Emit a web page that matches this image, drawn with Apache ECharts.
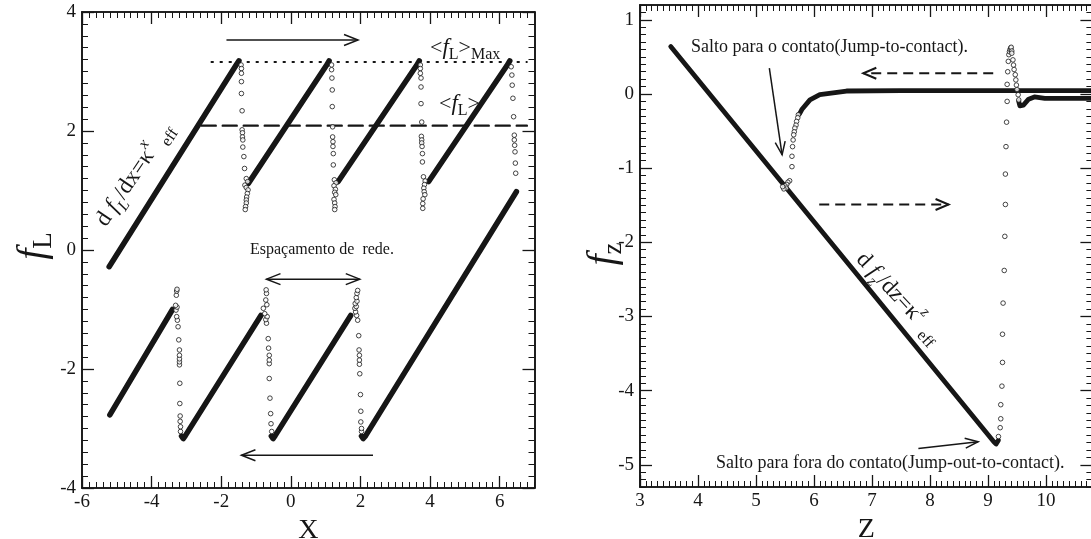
<!DOCTYPE html>
<html>
<head>
<meta charset="utf-8">
<script src="https://cdn.jsdelivr.net/npm/echarts@6/dist/echarts.min.js"></script>
<style>
  html, body { margin: 0; padding: 0; background: #fff; }
  #chart { width: 1091px; height: 539px; }
</style>
</head>
<body>
<div id="chart"></div>
<script>
// ---------- Lateral force f_L versus X ----------
// forward sweep (left to right): sticking branches
const fwdBranch1 = [[-5.22, -0.28], [-1.58, 3.10], [-1.49, 3.18]];
const fwdBranch2 = [[-1.22, 1.12], [1.02, 3.10], [1.10, 3.18]];
const fwdBranch3 = [[1.36, 1.15], [3.61, 3.10], [3.69, 3.18]];
const fwdBranch4 = [[3.96, 1.15], [6.21, 3.10], [6.29, 3.18]];
// backward sweep (right to left): sticking branches
const bwdBranch1 = [[6.48, 0.98], [2.15, -3.12], [2.08, -3.17], [2.03, -3.13]];
const bwdBranch2 = [[1.72, -1.10], [-0.45, -3.12], [-0.51, -3.17], [-0.56, -3.13]];
const bwdBranch3 = [[-0.86, -1.10], [-3.03, -3.12], [-3.09, -3.17], [-3.14, -3.13]];
const bwdBranch4 = [[-3.40, -1.00], [-5.20, -2.77]];

// slip events (sampled points during each jump)
const fwdSlip1 = [[-1.43, 3.11], [-1.42, 3.05], [-1.42, 2.97], [-1.42, 2.83], [-1.42, 2.63], [-1.40, 2.34], [-1.40, 2.02], [-1.39, 1.97], [-1.39, 1.90], [-1.38, 1.85], [-1.38, 1.73], [-1.35, 1.57], [-1.33, 1.37], [-1.28, 1.20], [-1.24, 1.15], [-1.32, 1.09], [-1.28, 1.05], [-1.23, 1.01], [-1.25, 0.95], [-1.27, 0.89], [-1.28, 0.84], [-1.28, 0.79], [-1.30, 0.73], [-1.31, 0.68]];
const fwdSlip2 = [[1.17, 3.11], [1.17, 3.03], [1.18, 2.89], [1.19, 2.69], [1.19, 2.41], [1.20, 2.07], [1.20, 1.90], [1.21, 1.82], [1.21, 1.74], [1.22, 1.62], [1.22, 1.43], [1.25, 1.18], [1.30, 1.13], [1.24, 1.08], [1.28, 1.02], [1.26, 0.97], [1.29, 0.93], [1.24, 0.85], [1.26, 0.79], [1.27, 0.73], [1.26, 0.68]];
const fwdSlip3 = [[3.72, 3.11], [3.72, 3.05], [3.72, 2.97], [3.74, 2.89], [3.74, 2.74], [3.74, 2.46], [3.76, 2.15], [3.75, 1.91], [3.76, 1.85], [3.76, 1.80], [3.77, 1.74], [3.78, 1.62], [3.78, 1.48], [3.81, 1.23], [3.86, 1.16], [3.84, 1.10], [3.82, 1.04], [3.83, 0.98], [3.85, 0.93], [3.80, 0.86], [3.79, 0.78], [3.79, 0.70]];
const fwdSlip4 = [[6.33, 3.08], [6.35, 2.94], [6.36, 2.77], [6.38, 2.55], [6.40, 2.24], [6.42, 1.93], [6.42, 1.85], [6.43, 1.76], [6.44, 1.65], [6.45, 1.46], [6.46, 1.29]];
const bwdSlip1 = [[2.03, -3.05], [2.03, -3.00], [2.01, -2.89], [2.01, -2.71], [2.00, -2.43], [1.98, -2.08], [1.97, -1.92], [1.97, -1.85], [1.97, -1.77], [1.96, -1.68], [1.95, -1.44], [1.92, -1.18], [1.89, -1.10], [1.86, -1.04], [1.84, -0.98], [1.88, -0.95], [1.85, -0.90], [1.90, -0.86], [1.88, -0.80], [1.90, -0.73], [1.92, -0.68]];
const bwdSlip2 = [[-0.55, -3.05], [-0.57, -2.92], [-0.58, -2.75], [-0.60, -2.49], [-0.62, -2.16], [-0.62, -1.91], [-0.62, -1.85], [-0.62, -1.77], [-0.64, -1.65], [-0.65, -1.49], [-0.70, -1.23], [-0.72, -1.17], [-0.68, -1.12], [-0.75, -1.07], [-0.79, -0.98], [-0.69, -0.92], [-0.72, -0.84], [-0.70, -0.73], [-0.71, -0.67]];
const bwdSlip3 = [[-3.17, -3.05], [-3.17, -2.97], [-3.18, -2.88], [-3.18, -2.79], [-3.19, -2.58], [-3.19, -2.24], [-3.20, -1.93], [-3.20, -1.88], [-3.20, -1.83], [-3.20, -1.77], [-3.20, -1.68], [-3.22, -1.51], [-3.24, -1.29], [-3.26, -1.18], [-3.28, -1.12], [-3.30, -1.01], [-3.27, -0.96], [-3.31, -0.93], [-3.29, -0.76], [-3.28, -0.69], [-3.27, -0.66]];

// mean and maximum lateral force levels
const fLMaxLevel = 3.16;
const fLMaxSpan = [-2.28, 6.78];
const fLMeanLevel = 2.09;
const fLMeanSpan = [-2.56, 6.78];

// annotation arrows [x1, y1, x2, y2] (arrowhead at x2, y2)
const scanArrows = [[-1.85, 3.53, 1.93, 3.53], [2.36, -3.45, -1.42, -3.45]];
const spacingArrow = [[-0.70, -0.49, 1.98, -0.49]];

const xTicksLateral = [-6, -4, -2, 0, 2, 4, 6];
const yTicksLateral = [-4, -2, 0, 2, 4];

// ---------- Normal force f_z versus Z ----------
const approachTrace = [[10.8, 0.045], [7.5, 0.045], [6.56, 0.04], [6.10, -0.01], [5.93, -0.08], [5.79, -0.21], [5.75, -0.27]];
const jumpToContact = [[5.73, -0.28], [5.72, -0.32], [5.70, -0.37], [5.69, -0.42], [5.67, -0.46], [5.66, -0.51], [5.65, -0.55], [5.64, -0.62], [5.63, -0.71], [5.62, -0.84], [5.62, -0.98], [5.58, -1.17], [5.55, -1.19], [5.53, -1.22], [5.50, -1.24], [5.52, -1.27], [5.48, -1.28], [5.46, -1.25]];
const contactTrace = [[3.53, 0.64], [9.10, -4.69], [9.14, -4.72], [9.18, -4.67]];
const jumpOutOfContact = [[9.18, -4.62], [9.21, -4.50], [9.22, -4.38], [9.22, -4.19], [9.24, -3.94], [9.25, -3.62], [9.25, -3.24], [9.26, -2.82], [9.28, -2.38], [9.29, -1.92], [9.30, -1.49], [9.30, -1.08], [9.31, -0.71], [9.32, -0.38], [9.33, -0.10], [9.33, 0.13], [9.34, 0.30], [9.35, 0.44], [9.36, 0.53], [9.37, 0.57], [9.38, 0.60], [9.39, 0.62], [9.40, 0.63], [9.41, 0.58], [9.41, 0.55], [9.43, 0.46], [9.44, 0.39], [9.45, 0.33], [9.47, 0.26], [9.48, 0.19], [9.49, 0.12], [9.50, 0.06], [9.52, -0.01], [9.53, -0.08]];
const retractTrace = [[9.53, -0.10], [9.55, -0.16], [9.57, -0.18], [9.61, -0.15], [9.70, -0.07], [9.80, -0.04], [9.98, -0.06], [10.8, -0.06]];

const normalSolidArrows = [[5.23, 0.35, 5.45, -0.82], [7.80, -4.78, 8.83, -4.69]];
const normalDashedArrows = [[9.09, 0.28, 6.85, 0.28], [6.09, -1.49, 8.32, -1.49]];

const zTicks = [3, 4, 5, 6, 7, 8, 9, 10];
const fzTicks = [-5, -4, -3, -2, -1, 0, 1];

// ---------- styling helpers ----------
const serif = '"Liberation Serif", "Times New Roman", serif';
const ink = '#161616';

function frameAxes(dim, gridIndex, min, max, majors, minorStep, extra) {
  const primary = dim === 'x' ? 'bottom' : 'left';
  const mirror = dim === 'x' ? 'top' : 'right';
  const base = {
    type: 'value', gridIndex, min, max,
    splitLine: { show: false },
    axisLine: { show: true, onZero: false, lineStyle: { color: ink, width: 1.6 } }
  };
  const majorTick = { inside: true, length: 12, customValues: majors, lineStyle: { color: ink, width: 1.3 } };
  const minorTick = { inside: true, length: 6, lineStyle: { color: ink, width: 1 } };
  return [
    Object.assign({}, base, {
      position: primary,
      axisTick: majorTick,
      axisLabel: {
        customValues: majors, color: ink, fontFamily: serif, fontSize: 19,
        margin: dim === 'x' ? 5 : 6
      }
    }, extra || {}),
    Object.assign({}, base, { position: primary, interval: minorStep, axisTick: minorTick, axisLabel: { show: false } }),
    Object.assign({}, base, { position: mirror, axisTick: majorTick, axisLabel: { show: false } }),
    Object.assign({}, base, { position: mirror, interval: minorStep, axisTick: minorTick, axisLabel: { show: false } })
  ];
}

function traceSeries(axis, data, width) {
  return {
    type: 'line', xAxisIndex: axis, yAxisIndex: axis, data, showSymbol: false, silent: true,
    lineStyle: { color: ink, width, cap: 'round', join: 'round' }, z: 3
  };
}

function circleSeries(axis, data) {
  return {
    type: 'scatter', xAxisIndex: axis, yAxisIndex: axis, data, symbol: 'circle', symbolSize: 4.6, silent: true,
    itemStyle: { color: '#fff', borderColor: ink, borderWidth: 1 }, z: 4
  };
}

function levelSeries(axis, span, level, dash, width) {
  return {
    type: 'line', xAxisIndex: axis, yAxisIndex: axis, showSymbol: false, silent: true,
    data: [[span[0], level], [span[1], level]],
    lineStyle: { color: ink, width, type: dash, cap: 'round' }, z: 2
  };
}

function arrowHead(tip, from, o) {
  const dx = tip[0] - from[0], dy = tip[1] - from[1];
  const d = Math.hypot(dx, dy), ux = dx / d, uy = dy / d;
  return {
    type: 'polyline',
    shape: { points: [
      [tip[0] - ux * o.len - uy * o.half, tip[1] - uy * o.len + ux * o.half],
      [tip[0], tip[1]],
      [tip[0] - ux * o.len + uy * o.half, tip[1] - uy * o.len - ux * o.half]
    ] },
    style: { stroke: ink, lineWidth: o.width, fill: null }
  };
}

function arrowSeries(axis, data, o) {
  return {
    type: 'custom', xAxisIndex: axis, yAxisIndex: axis, data, silent: true, z: 6,
    encode: { x: [0, 2], y: [1, 3] },
    renderItem: function (params, api) {
      const a = api.coord([api.value(0), api.value(1)]);
      const b = api.coord([api.value(2), api.value(3)]);
      const kids = [{
        type: 'line', shape: { x1: a[0], y1: a[1], x2: b[0], y2: b[1] },
        style: { stroke: ink, lineWidth: o.width, lineDash: o.dash || null }
      }, arrowHead(b, a, o)];
      if (o.both) kids.push(arrowHead(a, b, o));
      return { type: 'group', children: kids };
    }
  };
}

const rich = {
  m: { fontFamily: serif, fontSize: 23, lineHeight: 34, verticalAlign: 'middle', color: ink },
  i: { fontFamily: serif, fontStyle: 'italic', fontSize: 23, lineHeight: 34, verticalAlign: 'middle', color: ink },
  s: { fontFamily: serif, fontSize: 16, lineHeight: 16, verticalAlign: 'bottom', color: ink },
  si: { fontFamily: serif, fontStyle: 'italic', fontSize: 16, lineHeight: 16, verticalAlign: 'bottom', color: ink },
  p: { fontFamily: serif, fontStyle: 'italic', fontSize: 16, lineHeight: 16, verticalAlign: 'top', color: ink },
  M: { fontFamily: serif, fontSize: 22, lineHeight: 30, verticalAlign: 'middle', color: ink },
  I: { fontFamily: serif, fontStyle: 'italic', fontSize: 23, lineHeight: 30, verticalAlign: 'middle', color: ink },
  S: { fontFamily: serif, fontSize: 16, lineHeight: 16, verticalAlign: 'bottom', color: ink },
  T: { fontFamily: serif, fontStyle: 'italic', fontSize: 40, lineHeight: 48, verticalAlign: 'middle', color: ink },
  U: { fontFamily: serif, fontSize: 27, lineHeight: 27, verticalAlign: 'bottom', color: ink }
};

function label(x, y, text, opt) {
  return Object.assign({
    type: 'text', x, y, silent: true, z: 10,
    style: Object.assign({
      text, rich, fill: ink, fontFamily: serif, fontSize: 16,
      align: 'left', textAlign: 'left', verticalAlign: 'middle', textVerticalAlign: 'middle'
    }, (opt && opt.style) || {})
  }, opt && opt.rotation !== undefined ? { rotation: opt.rotation } : {});
}

const deg = Math.PI / 180;
const nameStyle = { fontFamily: serif, fontSize: 28, color: ink };

const chart = echarts.init(document.getElementById('chart'), null, { renderer: 'canvas' });
chart.setOption({
  animation: false,
  backgroundColor: '#fff',
  grid: [
    { left: 82, top: 12, width: 452.5, height: 476, outerBoundsMode: 'none', containLabel: false },
    { left: 640, top: 5, width: 452.4, height: 482, outerBoundsMode: 'none', containLabel: false }
  ],
  xAxis: [].concat(
    frameAxes('x', 0, -6, 7, xTicksLateral, 0.2, { name: 'X', nameLocation: 'middle', nameGap: 28, nameTextStyle: nameStyle }),
    frameAxes('x', 1, 3, 10.8, zTicks, 0.1, { name: 'Z', nameLocation: 'middle', nameGap: 28, nameTextStyle: nameStyle })
  ),
  yAxis: [].concat(
    frameAxes('y', 0, -4, 4, yTicksLateral, 0.2),
    frameAxes('y', 1, -5.3, 1.2, fzTicks, 0.1)
  ),
  series: [
    levelSeries(0, fLMaxSpan, fLMaxLevel, [1.5, 7.5], 2),
    levelSeries(0, fLMeanSpan, fLMeanLevel, [14, 7], 2.4),
    traceSeries(0, fwdBranch1, 5.5), traceSeries(0, fwdBranch2, 5.5),
    traceSeries(0, fwdBranch3, 5.5), traceSeries(0, fwdBranch4, 5.5),
    traceSeries(0, bwdBranch1, 5.5), traceSeries(0, bwdBranch2, 5.5),
    traceSeries(0, bwdBranch3, 5.5), traceSeries(0, bwdBranch4, 5.5),
    circleSeries(0, [].concat(fwdSlip1, fwdSlip2, fwdSlip3, fwdSlip4, bwdSlip1, bwdSlip2, bwdSlip3)),
    arrowSeries(0, scanArrows, { width: 1.5, len: 14, half: 5.5 }),
    arrowSeries(0, spacingArrow, { width: 1.5, len: 14, half: 5.5, both: true }),

    traceSeries(4, approachTrace, 4.8),
    traceSeries(4, contactTrace, 4.8),
    traceSeries(4, retractTrace, 4.8),
    circleSeries(4, [].concat(jumpToContact, jumpOutOfContact)),
    arrowSeries(4, normalSolidArrows, { width: 1.5, len: 13, half: 5 }),
    arrowSeries(4, normalDashedArrows, { width: 2, len: 13, half: 5.5, dash: [10, 6] })
  ],
  graphic: [
    label(101, 224, '{m|d }{i|f}{si|L}{m|/dx=κ}{p|x}{s|  eff}', { rotation: 56 * deg }),
    label(250, 250, 'Espaçamento de  rede.'),
    label(430, 48, '{M|<}{I|f}{S|L}{M|>}{S|Max}'),
    label(439, 104, '{M|<}{I|f}{S|L}{M|>}'),
    label(33, 246, '{T|f}{U|L}', { rotation: 90 * deg, style: { align: 'center', textAlign: 'center' } }),

    label(691, 47, 'Salto para o contato(Jump-to-contact).', { style: { fontSize: 18 } }),
    label(716, 463, 'Salto para fora do contato(Jump-out-to-contact).', { style: { fontSize: 18 } }),
    label(860, 256, '{m|d }{i|f}{si|z}{m|/dz=κ}{p|z}{s|  eff}', { rotation: -47 * deg }),
    label(603, 254, '{T|f}{U|z}', { rotation: 90 * deg, style: { align: 'center', textAlign: 'center' } })
  ]
});
</script>
</body>
</html>
